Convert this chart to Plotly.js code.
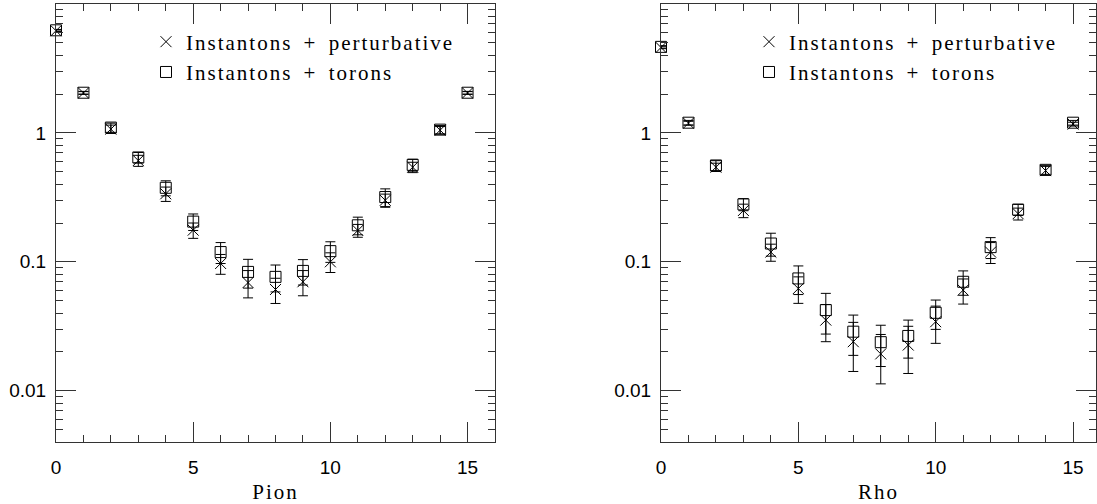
<!DOCTYPE html>
<html>
<head>
<meta charset="utf-8">
<script src="https://cdn.plot.ly/plotly-3.0.1.min.js"></script>
<style>
html,body{margin:0;padding:0;background:#fff;overflow:hidden}
#chart{width:1097px;height:504px}
.infolayer text, .legendtext { letter-spacing: 2px; word-spacing: 4px; }
</style>
</head>
<body>
<div id="chart"></div>
<script>
// ---- data ----
const tSlices = [0,1,2,3,4,5,6,7,8,9,10,11,12,13,14,15];

const pionPert    = [6.2, 2.04, 1.07, 0.61, 0.337, 0.176, 0.097, 0.069, 0.061, 0.070, 0.100, 0.175, 0.300, 0.542, 1.05, 2.04];
const pionPertErr = [0.10, 0.05, 0.08, 0.06, 0.043, 0.024, 0.017, 0.0165, 0.0135, 0.0155, 0.0174, 0.020, 0.035, 0.050, 0.07, 0.05];
const pionTor     = [6.25, 2.05, 1.10, 0.645, 0.375, 0.205, 0.119, 0.0835, 0.0764, 0.085, 0.121, 0.192, 0.318, 0.565, 1.06, 2.05];
const pionTorErr  = [0.10, 0.05, 0.09, 0.06, 0.050, 0.030, 0.022, 0.021, 0.018, 0.019, 0.022, 0.030, 0.050, 0.060, 0.08, 0.05];

const rhoPert     = [4.6, 1.19, 0.542, 0.25, 0.119, 0.062, 0.0353, 0.024, 0.0193, 0.0226, 0.0343, 0.0603, 0.119, 0.236, 0.51, 1.17];
const rhoPertErr  = [0.10, 0.04, 0.04, 0.03, 0.018, 0.0144, 0.0113, 0.0099, 0.008, 0.009, 0.011, 0.0133, 0.022, 0.025, 0.04, 0.04];
const rhoTor      = [4.65, 1.20, 0.559, 0.279, 0.1386, 0.0743, 0.0422, 0.0287, 0.0238, 0.0266, 0.0402, 0.070, 0.130, 0.254, 0.517, 1.20];
const rhoTorErr   = [0.10, 0.05, 0.05, 0.03, 0.028, 0.0186, 0.0147, 0.0099, 0.0084, 0.0087, 0.0103, 0.015, 0.024, 0.025, 0.04, 0.05];

const seriesNames = ['Instantons + perturbative', 'Instantons + torons'];
const panelTitles = ['Pion', 'Rho'];
const xTickVals = [0, 5, 10, 15];
const yTickVals = [0.01, 0.1, 1];
const yTickText = ['0.01', '0.1', '1'];

// ---- styling ----
const SERIF = 'Liberation Serif';
const SANS = 'Liberation Sans';
const INK = '#333';
const FS = 21;
const TFS = 19;

const yMinor = [];
for (let e = -3; e <= 0; e++) for (let d = 2; d <= 9; d++) yMinor.push(d * Math.pow(10, e));

function trace(y, err, sym, name, xa, ya, legend, grp) {
  return {
    type: 'scatter', mode: 'markers', x: tSlices, y: y, name: name,
    xaxis: xa, yaxis: ya, legend: legend, legendgroup: grp,
    marker: {symbol: sym, size: 11, color: '#000', line: {color: '#000', width: 1}},
    error_y: {type: 'data', array: err, visible: true, color: '#000', thickness: 1, width: 5},
    cliponaxis: false
  };
}

const data = [
  trace(pionPert, pionPertErr, 'x-thin-open', seriesNames[0], 'x', 'y', 'legend', 'a'),
  trace(pionTor, pionTorErr, 'square-open', seriesNames[1], 'x', 'y', 'legend', 'b'),
  trace(rhoPert, rhoPertErr, 'x-thin-open', seriesNames[0], 'x2', 'y2', 'legend2', 'a'),
  trace(rhoTor, rhoTorErr, 'square-open', seriesNames[1], 'x2', 'y2', 'legend2', 'b')
];

function xaxis(domain, range, title) {
  return {
    domain: domain, range: range, showgrid: false, zeroline: false,
    showline: true, linecolor: INK, linewidth: 1, mirror: 'allticks',
    ticks: 'inside', ticklen: 20, tickwidth: 1, tickcolor: INK,
    tickmode: 'array', tickvals: xTickVals, ticklabelstandoff: 8,
    minor: {tickmode: 'linear', tick0: 0, dtick: 1, ticks: 'inside', ticklen: 7, tickwidth: 1, tickcolor: INK},
    tickfont: {family: SANS, size: TFS, color: '#000'},
    title: {text: title, font: {family: SERIF, size: FS, color: '#000'}, standoff: 7}
  };
}
function yaxis(anchor) {
  return {
    anchor: anchor, type: 'log', range: [Math.log10(0.004), 1], showgrid: false, zeroline: false,
    showline: true, linecolor: INK, linewidth: 1, mirror: 'allticks',
    ticks: 'inside', ticklen: 20, tickwidth: 1, tickcolor: INK,
    tickmode: 'array', tickvals: yTickVals, ticktext: yTickText, ticklabelstandoff: 5,
    minor: {tickmode: 'array', tickvals: yMinor, ticks: 'inside', ticklen: 7, tickwidth: 1, tickcolor: INK},
    tickfont: {family: SANS, size: TFS, color: '#000'}
  };
}

function legend(x) {
  return {
    x: x, y: 0.96, xanchor: 'left', yanchor: 'top', bgcolor: 'rgba(0,0,0,0)',
    font: {family: SERIF, size: FS, color: '#000'}, tracegroupgap: 0, borderwidth: 0
  };
}

const layout = {
  width: 1097, height: 504,
  margin: {l: 0, r: 0, t: 4, b: 62},
  paper_bgcolor: '#fff', plot_bgcolor: '#fff',
  showlegend: true,
  xaxis: Object.assign(xaxis([56/1097, 495/1097], [0, 16], panelTitles[0]), {anchor: 'y'}),
  yaxis: yaxis('x'),
  xaxis2: Object.assign(xaxis([661/1097, 1096/1097], [0, 435/27.47], panelTitles[1]), {anchor: 'y2'}),
  yaxis2: yaxis('x2'),
  legend: legend(146/1097),
  legend2: legend(749/1097)
};

Plotly.newPlot('chart', data, layout, {displayModeBar: false, staticPlot: true}).then(function (gd) {
  // letter-spaced legend text is wider than Plotly measured: drop the legend clip boxes
  gd.querySelectorAll('.infolayer [clip-path]').forEach(function (el) { el.removeAttribute('clip-path'); });
});
</script>
</body>
</html>
